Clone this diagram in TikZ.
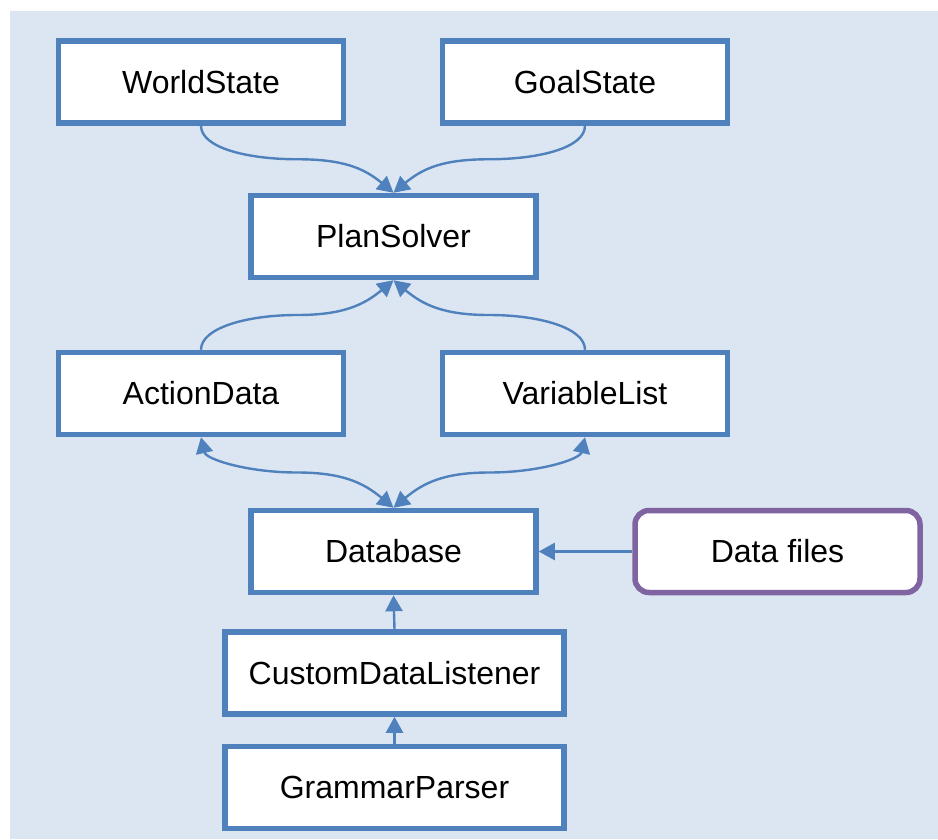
\documentclass[tikz,border=0pt]{standalone}
\usepackage{fontspec}
\setmainfont{Liberation Sans}
\usetikzlibrary{arrows.meta,calc}

\definecolor{boxblue}{HTML}{4F81BD}
\definecolor{filepurple}{HTML}{8064A2}
\definecolor{panelbg}{HTML}{DCE6F2}

\begin{document}
\begin{tikzpicture}[
    x=1pt,
    y=1pt,
    classbox/.style={draw=boxblue, line width=5.5pt, fill=white,
        minimum width=285pt, minimum height=82pt, inner sep=0pt,
        font=\fontsize{32}{38}\selectfont},
    widebox/.style={classbox, minimum width=339pt},
    filebox/.style={classbox, draw=filepurple, rounded corners=14pt},
    link/.style={draw=boxblue, line width=2.4pt, -{Triangle[length=16pt,width=17pt]}},
    duallink/.style={link, {Triangle[length=16pt,width=17pt]}-{Triangle[length=16pt,width=17pt]}}
]

% Background
\useasboundingbox (0,0) rectangle (938,-839);
\fill[panelbg] (10,-11) rectangle (938,-839);

% Boxes
\node[classbox] (world) at (201,-82) {WorldState};
\node[classbox] (goal) at (585,-82) {GoalState};
\node[classbox] (solver) at (393.5,-236.5) {PlanSolver};
\node[classbox] (action) at (201,-393.5) {ActionData};
\node[classbox] (varlist) at (585,-393.5) {VariableList};
\node[classbox] (database) at (393.5,-551.5) {Database};
\node[filebox] (datafiles) at (777.5,-551.5) {Data files};
\node[widebox] (listener) at (394.5,-673) {CustomDataListener};
\node[widebox] (parser) at (394.5,-787.5) {GrammarParser};

% States into the solver
\draw[link] (world.south) .. controls +(0,-22) and +(-50,0) ..
    ($(world.south)!.5!(solver.north)$) .. controls +(45,0) and +(-30,25) .. (solver.north);
\draw[link] (goal.south) .. controls +(0,-22) and +(50,0) ..
    ($(goal.south)!.5!(solver.north)$) .. controls +(-45,0) and +(30,25) .. (solver.north);

% Data into the solver
\draw[link] (action.north) .. controls +(0,22) and +(-50,0) ..
    ($(action.north)!.5!(solver.south)$) .. controls +(45,0) and +(-30,-25) .. (solver.south);
\draw[link] (varlist.north) .. controls +(0,22) and +(50,0) ..
    ($(varlist.north)!.5!(solver.south)$) .. controls +(-45,0) and +(30,-25) .. (solver.south);

% Database links
\draw[duallink] (action.south) .. controls +(5,-22) and +(-50,0) ..
    ($(action.south)!.5!(database.north)$) .. controls +(45,0) and +(-30,25) .. (database.north);
\draw[duallink] (varlist.south) .. controls +(-5,-22) and +(50,0) ..
    ($(varlist.south)!.5!(database.north)$) .. controls +(-45,0) and +(30,25) .. (database.north);
\draw[link] (datafiles.west) -- (database.east);
\draw[link] (listener.north) -- (database.south);
\draw[link] (parser.north) -- (listener.south);

\end{tikzpicture}
\end{document}
